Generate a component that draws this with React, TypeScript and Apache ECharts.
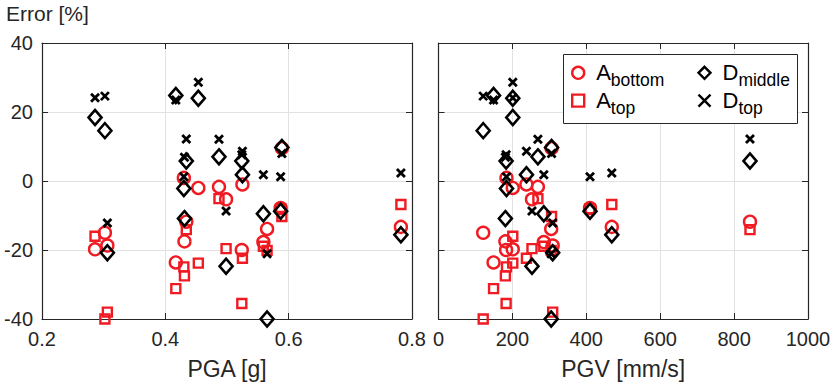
import React, { useEffect, useRef } from 'react';
import * as echarts from 'echarts';

// One record per ground motion: PGA [g], PGV [mm/s] and the four errors [%]
const pga = [0.286, 0.302, 0.306, 0.417, 0.430, 0.431, 0.434, 0.4535, 0.487, 0.4985, 0.525, 0.524, 0.559, 0.565, 0.589, 0.587, 0.782];
const pgv = [201, 121, 309, 149, 184, 181, 843, 201, 269, 253, 238, 183, 285, 305, 306, 410, 469];
const aBottom = [-19.8, -15.0, -18.7, -23.6, 0.9, -17.5, -11.8, -2.0, -1.7, -5.3, -1.0, -20.0, -17.7, -13.9, 9.5, -7.8, -13.3];
const aTop = [-16.0, -40.0, -38.0, -31.2, -24.9, -27.5, -14.1, -23.8, -5.1, -19.6, -22.4, -35.5, -18.9, -20.1, -10.3, -8.0, -6.8];
const dMiddle = [18.4, 14.6, -20.8, 24.8, -2.2, -10.9, 5.8, 24.0, 7.0, -24.7, 1.8, 5.8, -9.5, -40.0, 9.7, -8.8, -15.6];
const dTop = [24.1, 24.6, -12.2, 23.5, 1.2, 6.9, 12.2, 28.6, 12.1, -8.7, 8.6, 7.6, 1.8, -21.1, 8.0, 1.2, 2.3];

const seriesNames = ['A_bottom', 'A_top', 'D_middle', 'D_top'];
const seriesValues = [aBottom, aTop, dMiddle, dTop];
const errorTicks = { min: -40, max: 40, interval: 20 };
const pgaTicks = { min: 0.2, max: 0.8, interval: 0.2 };
const pgvTicks = { min: 0, max: 1000, interval: 200 };

const RED = '#f01a22';
const BLACK = '#000000';
const AXIS = '#262626';
const GRID = '#e2e2e2';
const FONT = '"Liberation Sans", Arial, Helvetica, sans-serif';

const markerStyles: any[] = [
  { symbol: 'circle', symbolSize: 12, itemStyle: { color: 'transparent', borderColor: RED, borderWidth: 2.4, opacity: 1 } },
  { symbol: 'rect', symbolSize: 9, itemStyle: { color: 'transparent', borderColor: RED, borderWidth: 2.4, opacity: 1 } },
  { symbol: 'diamond', symbolSize: [13, 15], itemStyle: { color: 'transparent', borderColor: BLACK, borderWidth: 2.6, opacity: 1 } },
  { symbol: 'path://M0,0L10,10M10,0L0,10', symbolSize: 8, itemStyle: { color: 'transparent', borderColor: BLACK, borderWidth: 2.8, opacity: 1 } },
];

function xAxes(gridIndex: number, t: { min: number; max: number; interval: number }, name: string, fmt: (v: number) => string) {
  const common = {
    type: 'value',
    gridIndex,
    min: t.min,
    max: t.max,
    interval: t.interval,
    axisLine: { show: true, onZero: false, lineStyle: { color: AXIS, width: 1.2 } },
    axisTick: { show: true, inside: true, length: 6, lineStyle: { color: AXIS, width: 1 } },
  };
  return [
    {
      ...common,
      position: 'bottom',
      name,
      nameLocation: 'middle',
      nameGap: 38,
      nameTextStyle: { fontSize: 23, color: AXIS, fontFamily: FONT },
      axisLabel: { show: true, fontSize: 20, color: AXIS, margin: 10, fontFamily: FONT, formatter: fmt },
      splitLine: { show: true, lineStyle: { color: GRID, width: 1 } },
    },
    {
      ...common,
      position: 'top',
      axisLabel: { show: false },
      splitLine: { show: false },
    },
  ];
}

function yAxes(gridIndex: number, showLabels: boolean) {
  const common = {
    type: 'value',
    gridIndex,
    min: errorTicks.min,
    max: errorTicks.max,
    interval: errorTicks.interval,
    axisLine: { show: true, onZero: false, lineStyle: { color: AXIS, width: 1.2 } },
    axisTick: { show: true, inside: true, length: 6, lineStyle: { color: AXIS, width: 1 } },
  };
  return [
    {
      ...common,
      position: 'left',
      axisLabel: { show: showLabels, fontSize: 20, color: AXIS, margin: 9, fontFamily: FONT, formatter: (v: number) => String(v) },
      splitLine: { show: true, lineStyle: { color: GRID, width: 1 } },
    },
    {
      ...common,
      position: 'right',
      axisLabel: { show: false },
      splitLine: { show: false },
    },
  ];
}

const legendText = {
  color: BLACK,
  fontFamily: FONT,
  rich: {
    m: { fontSize: 22, lineHeight: 22, fontFamily: FONT, color: BLACK, padding: [0, 0, 0, 7], verticalAlign: 'middle' },
    s: { fontSize: 17.5, lineHeight: 22, fontFamily: FONT, color: BLACK, padding: [15, 0, 0, 0], verticalAlign: 'middle' },
  },
};
const legendFormatter = (name: string) => {
  const [m, s] = name.split('_');
  return `{m|${m}}{s|${s}}`;
};

const legendCommon = {
  orient: 'vertical',
  top: 56.3,
  padding: 0,
  itemWidth: 12,
  itemHeight: 12,
  itemGap: -5.2,
  selectedMode: false,
  formatter: legendFormatter,
  textStyle: legendText,
  itemStyle: { borderWidth: 2.4 },
  z: 5,
};

export default function App() {
  const ref = useRef<HTMLDivElement>(null);
  useEffect(() => {
    document.body.style.margin = '0';
    const chart = echarts.init(ref.current!, null, { renderer: 'svg' });
    const series: any[] = [];
    [pga, pgv].forEach((xs, g) => {
      seriesNames.forEach((name, k) => {
        series.push({
          type: 'scatter',
          name,
          xAxisIndex: g * 2,
          yAxisIndex: g * 2,
          data: xs.map((x, i) => [x, seriesValues[k][i]]),
          clip: false,
          ...markerStyles[k],
          emphasis: { disabled: true },
        });
      });
    });
    const option: any = {
      animation: false,
      backgroundColor: '#ffffff',
      textStyle: { fontFamily: FONT },
      grid: [
        { left: 42, right: 421, top: 43, bottom: 69, outerBoundsMode: 'none', containLabel: false },
        { left: 438.5, right: 25, top: 43, bottom: 69, outerBoundsMode: 'none', containLabel: false },
      ],
      xAxis: [
        ...xAxes(0, pgaTicks, 'PGA [g]', (v: number) => v.toFixed(1)),
        ...xAxes(1, pgvTicks, 'PGV [mm/s]', (v: number) => String(v)),
      ],
      yAxis: [...yAxes(0, true), ...yAxes(1, false)],
      legend: [
        { ...legendCommon, data: ['A_bottom', 'A_top'], left: 571 },
        { ...legendCommon, data: ['D_middle', 'D_top'], left: 697.3 },
      ],
      graphic: [
        {
          type: 'rect',
          z: 3,
          shape: { x: 563.5, y: 54.5, width: 234, height: 69 },
          style: { fill: '#ffffff', stroke: AXIS, lineWidth: 1 },
        },
        {
          type: 'text',
          x: 6,
          y: 13,
          style: { text: 'Error [%]', fontSize: 21, fontFamily: FONT, fill: AXIS, align: 'left', verticalAlign: 'middle' },
        },
      ],
      series,
    };
    chart.setOption(option);
    return () => chart.dispose();
  }, []);
  return <div ref={ref} style={{ width: 833, height: 388 }} />;
}
